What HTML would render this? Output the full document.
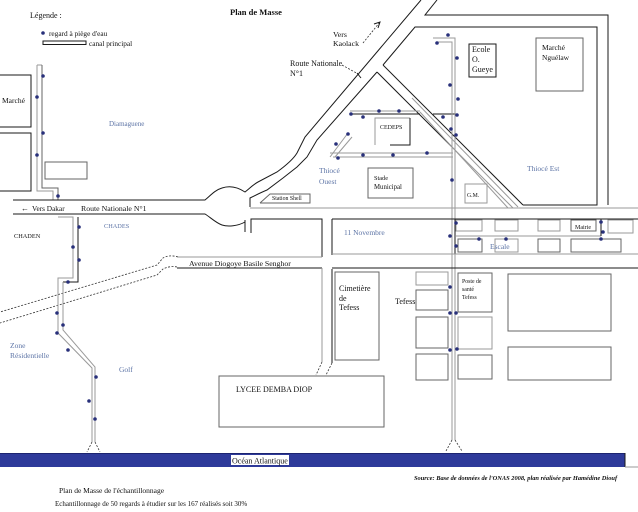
<!DOCTYPE html>
<html><head><meta charset="utf-8"><style>
html,body{margin:0;padding:0;background:#fff;}
svg{display:block;}
text{font-family:"Liberation Serif",serif;fill:#111;}
.b{fill:#5d74a6;}
.k{stroke:#1a1a1a;stroke-width:1;fill:none;}
.g{stroke:#9a9a9a;stroke-width:1;fill:none;}
.m{stroke:#666;stroke-width:1;fill:none;}
.d{stroke:#333;stroke-width:0.8;fill:none;stroke-dasharray:2,1.5;}
.dot{fill:#28307a;}
</style></head><body>
<svg width="638" height="512" viewBox="0 0 638 512" xmlns="http://www.w3.org/2000/svg">
<rect width="638" height="512" fill="#fff"/>

<!-- Titles / legend -->
<text x="30" y="18" font-size="8">Légende :</text>
<text x="230" y="15" font-size="8.5" font-weight="bold">Plan de Masse</text>
<circle class="dot" cx="43" cy="33" r="1.8"/>
<text x="49" y="36" font-size="7.3">regard à piège d'eau</text>
<rect x="43" y="41" width="43" height="3.5" class="k" stroke-width="0.8"/>
<text x="89" y="46" font-size="7.3">canal principal</text>

<!-- Left blocks -->
<path class="k" d="M0,75 H31 V127 H0"/>
<path class="k" d="M0,133 H31 V191 H0"/>
<text x="2" y="103" font-size="7.5">Marché</text>
<rect x="45" y="162" width="42" height="17" class="m"/>
<text x="109" y="126" font-size="7" class="b">Diamaguene</text>

<!-- Left upper canal -->
<path class="g" d="M37,65 H42"/>
<path class="g" d="M37,65 V191 H53 V200"/>
<path class="m" d="M42,65 V188 H58 V200"/>

<!-- Route nationale horizontal + roundabout -->
<path class="k" d="M13,200 L205,200 C210,196 215,190 222,188 C228,186 236,186 245,192 C250,188 254,184 258,182 L277,172 C288,164 294,158 297,153 L305,137 L421,0"/>
<path class="k" d="M13,214 L205,214 C210,217 216,223 222,225 C228,227 238,226 245,222"/>
<path class="k" d="M245,220 V232"/>
<path class="k" d="M250,207 V198 C256,195 262,192 267,190 L283,178 L297,167 L307,157 L317,140 L377,72"/>
<path class="g" d="M250,208 H638"/>

<!-- Station shell -->
<path class="m" d="M260,203 L270,194 H310 V203 H260"/>
<text x="272" y="200" font-size="5.8">Station Shell</text>

<!-- Diagonal road (SE) -->
<path class="k" d="M383,65 L523,205"/>
<path class="k" d="M377,72 L453,148"/>
<path class="g" d="M453,148 L513,208"/>
<path class="g" d="M412,98 L518,207"/>
<path class="g" d="M420,112 L508,208"/>

<!-- Thiocé Est block and top road -->
<path class="k" d="M383,65 L415,27 H597 V205 H523"/>
<path class="k" d="M437,0 L425,15 H608 V205"/>

<!-- Buildings top right -->
<rect x="469" y="44" width="27" height="33" class="k"/>
<text x="472" y="52" font-size="8">Ecole</text>
<text x="472" y="62" font-size="8">O.</text>
<text x="472" y="72" font-size="8">Gueye</text>
<rect x="536" y="38" width="47" height="53" class="m"/>
<text x="542" y="50" font-size="7.5">Marché</text>
<text x="542" y="60" font-size="7.5">Nguélaw</text>
<text x="527" y="171" font-size="7.5" class="b">Thiocé Est</text>
<rect x="465" y="184" width="22" height="19" class="g"/>
<text x="467" y="197" font-size="5.8">G.M.</text>

<!-- CEDEPS / Stade -->
<path class="g" d="M375,145 V118 H410"/>
<path class="k" d="M410,118 V145 H390"/>
<text x="380" y="129" font-size="6">CEDEPS</text>
<rect x="368" y="168" width="45" height="30" class="m"/>
<text x="374" y="180" font-size="6.3">Stade</text>
<text x="374" y="189" font-size="6.8">Municipal</text>
<text x="319" y="173" font-size="7.5" class="b">Thiocé</text>
<text x="319" y="184" font-size="7.5" class="b">Ouest</text>

<!-- Canals central -->
<path class="g" d="M350,111 H420"/>
<path class="k" d="M350,114 H420"/>
<path class="k" d="M433,114 H457"/>
<path class="g" d="M330,153 H453"/>
<path class="g" d="M333,157 H453"/>
<path class="g" d="M330,157 L348,133"/>
<path class="g" d="M335,157 L352,137"/>
<path class="g" d="M433,38 H455 V440"/>
<path class="g" d="M436,42 H452 V440"/>
<path class="k" d="M455,219 V254"/>
<path class="d" d="M452,440 L446,451"/>
<path class="d" d="M455,440 L462,451"/>

<!-- Labels top -->
<text x="333" y="37" font-size="7.8">Vers</text>
<text x="333" y="46" font-size="7.8">Kaolack</text>
<path class="d" d="M363,43 L380,22"/>
<path class="k" stroke-width="0.8" d="M374,24 L380,22 L378,28"/>
<text x="290" y="66" font-size="8">Route Nationale</text>
<text x="290" y="76" font-size="8">N°1</text>
<path class="d" d="M342,65 L360,75"/>
<path class="k" stroke-width="0.8" d="M357,73 L361,78"/>

<!-- Road labels left -->
<text x="21" y="211" font-size="8">←</text>
<text x="32" y="211" font-size="7.3">Vers Dakar</text>
<text x="81" y="211" font-size="7.8">Route Nationale N°1</text>
<text x="104" y="228" font-size="6.3" class="b">CHADES</text>
<text x="14" y="238" font-size="6.3" fill="#333">CHADEN</text>

<!-- Left block below road -->
<path class="k" d="M251,233 V219 H322 V257"/>
<path class="g" d="M322,257 H178"/>
<path class="k" d="M322,268 H177"/>
<path class="d" d="M178,257 C172,255 166,256 163,258 L157,265 L0,312"/>
<path class="d" d="M177,267 C172,266 167,267 163,269 L157,275 L0,323"/>
<text x="189" y="266" font-size="7.8">Avenue Diogoye  Basile Senghor</text>

<!-- 11 Novembre block -->
<path class="k" d="M332,219 H638"/>
<path class="k" d="M332,219 V255"/>
<path class="g" d="M332,254 H638"/>
<path class="k" d="M332,268 H638"/>
<text x="344" y="235" font-size="7.5" class="b">11 Novembre</text>
<rect x="456" y="220" width="26" height="11" class="g"/>
<rect x="495" y="220" width="23" height="11" class="g"/>
<rect x="538" y="220" width="22" height="11" class="g"/>
<rect x="571" y="220" width="25" height="11" class="m"/>
<text x="575" y="229" font-size="6">Mairie</text>
<rect x="608" y="220" width="25" height="13" class="g"/>
<rect x="458" y="239" width="24" height="13" class="m"/>
<rect x="495" y="239" width="23" height="13" class="g"/>
<rect x="538" y="239" width="22" height="13" class="m"/>
<rect x="571" y="239" width="50" height="13" class="m"/>
<path class="g" d="M456,236 H601"/>
<path class="k" d="M601,219 V236"/>
<text x="490" y="249" font-size="7.5" class="b">Escale</text>

<!-- Vertical road to Lycée -->
<path class="g" d="M322,268 V362"/>
<path class="k" d="M332,269 V363"/>
<path class="d" d="M322,362 L316,375"/>
<path class="d" d="M332,363 L326,375"/>

<!-- Tefess -->
<rect x="335" y="272" width="44" height="88" class="m"/>
<text x="339" y="291" font-size="8">Cimetière</text>
<text x="339" y="301" font-size="8">de</text>
<text x="339" y="310" font-size="8">Tefess</text>
<text x="395" y="304" font-size="8" fill="#445">Tefess</text>
<rect x="416" y="272" width="32" height="13" class="g"/>
<rect x="416" y="290" width="32" height="20" class="m"/>
<rect x="416" y="317" width="32" height="31" class="m"/>
<rect x="416" y="354" width="32" height="26" class="m"/>
<rect x="458" y="273" width="34" height="39" class="m"/>
<text x="462" y="283" font-size="5.8">Poste de</text>
<text x="462" y="291" font-size="5.8">santé</text>
<text x="462" y="299" font-size="5.8">Tefess</text>
<rect x="458" y="317" width="34" height="32" class="g"/>
<rect x="458" y="355" width="34" height="24" class="m"/>
<rect x="508" y="274" width="103" height="57" class="m"/>
<rect x="508" y="347" width="103" height="33" class="m"/>

<!-- Lycée -->
<rect x="219" y="376" width="165" height="51" class="m"/>
<text x="236" y="392" font-size="8">LYCEE DEMBA DIOP</text>

<!-- Left lower canal -->
<path class="g" d="M58,217 H73 V278 H58 V333 L92,368 V442"/>
<path class="k" d="M78,217 V282 H63"/>
<path class="g" d="M63,282 V330 L95,367 V442"/>
<path class="d" d="M92,442 L87,452"/>
<path class="d" d="M95,442 L100,452"/>
<text x="10" y="348" font-size="7.5" class="b">Zone</text>
<text x="10" y="358" font-size="7.5" class="b">Résidentielle</text>
<text x="119" y="372" font-size="7.5" class="b">Golf</text>

<!-- Ocean -->
<rect x="0" y="453" width="625" height="14" fill="#2e3a9a"/>
<path d="M0,453.5 H625" stroke="#1c2470" stroke-width="1"/>
<path class="k" d="M625,453 V467"/>
<path class="g" d="M625,467 H638"/>
<rect x="231" y="455" width="58" height="10" fill="#fff"/>
<text x="232" y="463.5" font-size="8">Océan Atlantique</text>

<text x="414" y="480" font-size="6.4" font-style="italic" font-weight="bold">Source: Base de données de l'ONAS 2008, plan réalisée par Hamédine Diouf</text>
<text x="59" y="493" font-size="7.5">Plan de Masse de l'échantillonnage</text>
<text x="55" y="506" font-size="7">Echantillonnage de 50 regards à étudier sur les 167 réalisés soit 30%</text>

<!-- Dots -->
<g class="dot">
<circle cx="43" cy="76" r="1.8"/><circle cx="37" cy="97" r="1.8"/><circle cx="43" cy="133" r="1.8"/><circle cx="37" cy="155" r="1.8"/><circle cx="58" cy="196" r="1.8"/>
<circle cx="79" cy="227" r="1.8"/><circle cx="73" cy="247" r="1.8"/><circle cx="79" cy="260" r="1.8"/><circle cx="68" cy="282" r="1.8"/><circle cx="57" cy="313" r="1.8"/><circle cx="63" cy="325" r="1.8"/><circle cx="57" cy="333" r="1.8"/><circle cx="68" cy="350" r="1.8"/><circle cx="96" cy="377" r="1.8"/><circle cx="89" cy="401" r="1.8"/><circle cx="95" cy="419" r="1.8"/>
<circle cx="448" cy="35" r="1.8"/><circle cx="437" cy="43" r="1.8"/><circle cx="457" cy="58" r="1.8"/><circle cx="450" cy="85" r="1.8"/><circle cx="458" cy="99" r="1.8"/><circle cx="457" cy="115" r="1.8"/><circle cx="443" cy="117" r="1.8"/><circle cx="451" cy="129" r="1.8"/><circle cx="456" cy="135" r="1.8"/><circle cx="452" cy="180" r="1.8"/>
<circle cx="351" cy="114" r="1.8"/><circle cx="363" cy="117" r="1.8"/><circle cx="379" cy="111" r="1.8"/><circle cx="399" cy="111" r="1.8"/>
<circle cx="336" cy="144" r="1.8"/><circle cx="348" cy="134" r="1.8"/>
<circle cx="338" cy="158" r="1.8"/><circle cx="363" cy="155" r="1.8"/><circle cx="393" cy="155" r="1.8"/><circle cx="427" cy="153" r="1.8"/>
<circle cx="456" cy="223" r="1.8"/><circle cx="450" cy="236" r="1.8"/><circle cx="456" cy="246" r="1.8"/><circle cx="479" cy="239" r="1.8"/><circle cx="506" cy="239" r="1.8"/><circle cx="601" cy="222" r="1.8"/><circle cx="603" cy="232" r="1.8"/><circle cx="601" cy="239" r="1.8"/>
<circle cx="450" cy="287" r="1.8"/><circle cx="450" cy="313" r="1.8"/><circle cx="456" cy="313" r="1.8"/><circle cx="450" cy="350" r="1.8"/><circle cx="457" cy="349" r="1.8"/>
</g>
</svg>
</body></html>
